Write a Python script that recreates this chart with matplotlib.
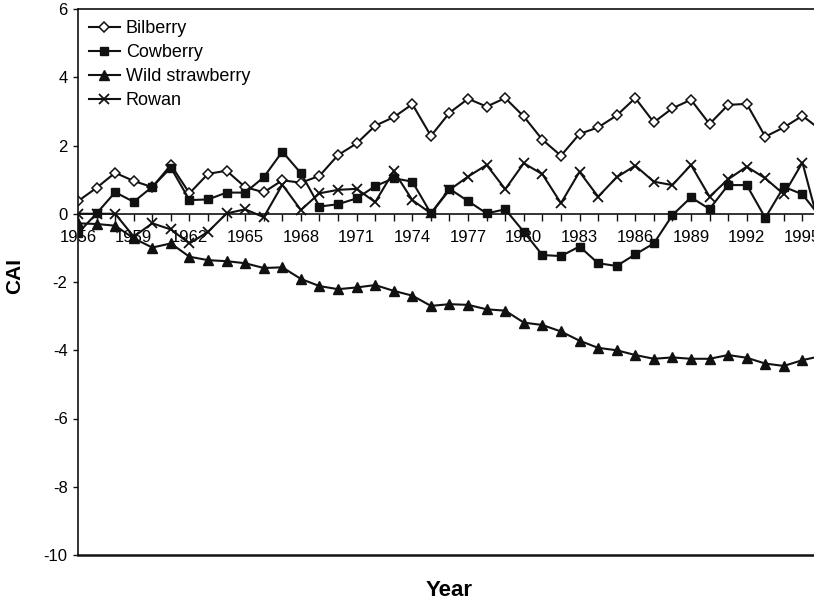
import numpy as np
import matplotlib
matplotlib.use('Agg')
import matplotlib.pyplot as plt
from matplotlib.ticker import MultipleLocator

plt.rcParams['font.family'] = ['Liberation Sans', 'DejaVu Sans']
plt.rcParams['axes.unicode_minus'] = False

years = np.arange(1956, 1997)

bilberry = [0.37, 0.76, 1.20, 0.96, 0.78, 1.43, 0.60, 1.17, 1.26, 0.78,
            0.63, 0.98, 0.91, 1.11, 1.72, 2.06, 2.58, 2.83, 3.21, 2.28,
            2.96, 3.37, 3.14, 3.39, 2.85, 2.17, 1.70, 2.34, 2.53, 2.88,
            3.39, 2.68, 3.09, 3.34, 2.63, 3.19, 3.22, 2.26, 2.53, 2.87,
            2.45]
cowberry = [-0.57, 0.01, 0.63, 0.35, 0.79, 1.35, 0.40, 0.42, 0.62, 0.62,
            1.07, 1.82, 1.19, 0.21, 0.28, 0.45, 0.81, 1.04, 0.94, 0.01,
            0.73, 0.37, 0.01, 0.13, -0.53, -1.21, -1.24, -0.96, -1.45, -1.53,
            -1.19, -0.87, -0.04, 0.48, 0.14, 0.84, 0.84, -0.12, 0.79, 0.57,
            -0.12]
strawberry = [-0.28, -0.30, -0.35, -0.72, -0.99, -0.87, -1.26, -1.36, -1.39, -1.45,
              -1.59, -1.57, -1.91, -2.12, -2.21, -2.16, -2.09, -2.26, -2.40, -2.70,
              -2.65, -2.67, -2.80, -2.84, -3.19, -3.26, -3.45, -3.72, -3.93, -4.00,
              -4.14, -4.25, -4.21, -4.25, -4.25, -4.14, -4.22, -4.39, -4.46, -4.29,
              -4.17]
rowan = [0.00, 0.00, 0.00, -0.67, -0.28, -0.46, -0.87, -0.53, 0.01, 0.13,
         -0.10, 0.85, 0.11, 0.60, 0.70, 0.73, 0.34, 1.25, 0.40, 0.01,
         0.70, 1.09, 1.43, 0.72, 1.48, 1.16, 0.31, 1.23, 0.50, 1.07,
         1.41, 0.94, 0.84, 1.43, 0.50, 1.01, 1.38, 1.04, 0.57, 1.50,
         -0.55]

fig = plt.figure(figsize=(8.14, 6.05), dpi=100)
# axes runs a little past the right edge of the figure
ax = fig.add_axes([78/814, 50/605, 743/814, 546/605])

lc = '#111111'
kw = dict(color=lc, lw=1.5)
ax.plot(years, bilberry, marker='D', ms=5.5, mfc='white', mec=lc, mew=1.1, label='Bilberry', **kw)
ax.plot(years, cowberry, marker='s', ms=6, mfc=lc, mec=lc, label='Cowberry', **kw)
ax.plot(years, strawberry, marker='^', ms=6.5, mfc=lc, mec=lc, label='Wild strawberry', **kw)
ax.plot(years, rowan, marker='x', ms=7, mew=1.3, mec=lc, label='Rowan', **kw)

ax.set_xlim(1956, 1996)
ax.set_ylim(-10, 6)

# x axis sits on the zero line, frame closed at the bottom with a plain line
ax.spines['bottom'].set_position(('data', 0))
ax.spines['right'].set_visible(False)
for s in ['left', 'top', 'bottom']:
    ax.spines[s].set_linewidth(1.2)
    ax.spines[s].set_color(lc)
ax.axhline(-10, color=lc, lw=1.8, clip_on=False)

ax.xaxis.set_major_locator(MultipleLocator(3))
ax.xaxis.set_minor_locator(MultipleLocator(1))
ax.yaxis.set_major_locator(MultipleLocator(2))
ax.tick_params(axis='x', which='both', direction='out', length=5, width=1, pad=7,
               labelsize=12, color=lc)
ax.tick_params(axis='y', direction='out', length=3.5, width=1, pad=4, labelsize=12, color=lc)

ax.set_xlabel('Year', fontsize=16, fontweight='bold')
ax.xaxis.set_label_coords((449 - 78) / 743, -25 / 546)
ax.set_ylabel('CAI', fontsize=15, fontweight='bold')
ax.yaxis.set_label_coords((24 - 78) / 743, (555 - 276) / 546)

ax.legend(loc='upper left', bbox_to_anchor=(0, 1), frameon=False, fontsize=13,
          handlelength=1.7, handletextpad=0.35, labelspacing=0.4,
          borderaxespad=0.4, borderpad=0.2)

fig.savefig('out.png', dpi=100)
